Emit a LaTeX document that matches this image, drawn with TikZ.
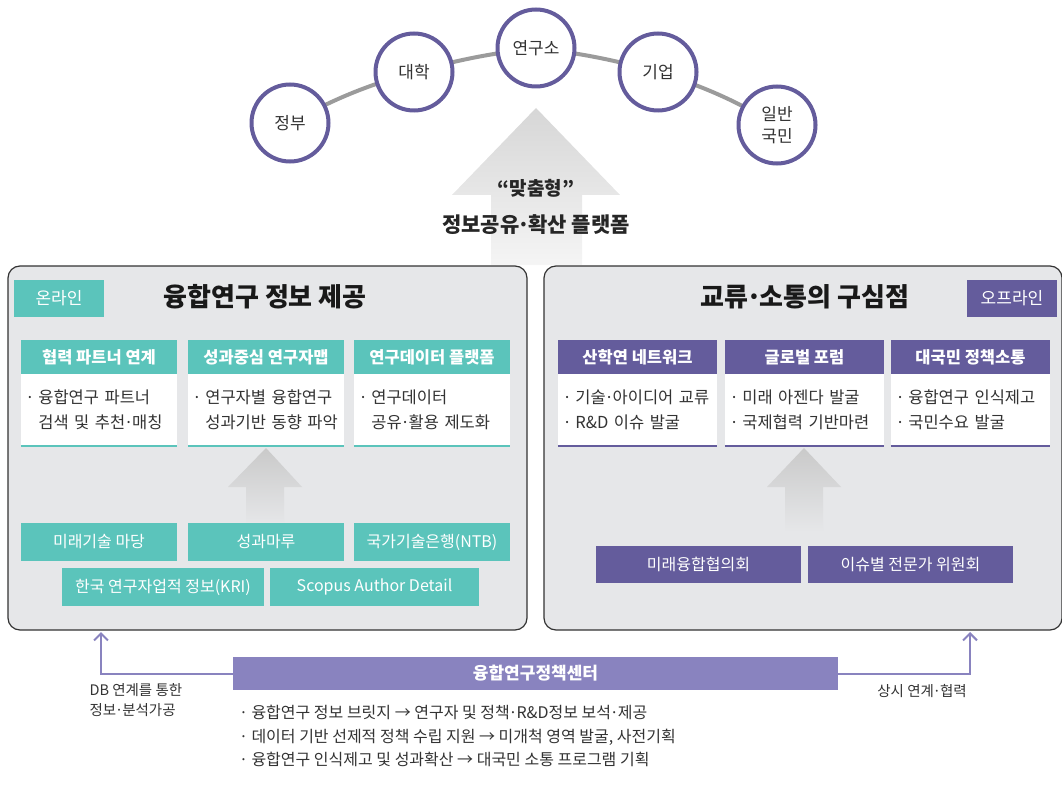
\documentclass[tikz,border=0pt]{standalone}
\usepackage{fontspec}
\setmainfont{Noto Sans CJK KR}
\usetikzlibrary{arrows.meta,backgrounds}
\definecolor{teal1}{HTML}{5BC4BB}
\definecolor{purp}{HTML}{645C9C}
\definecolor{purpl}{HTML}{8983BF}
\definecolor{boxbg}{HTML}{E6E7E9}
\definecolor{txt}{HTML}{333333}
\definecolor{arcc}{HTML}{9B9B9B}
\newcommand\md{\leavevmode\hbox to 0.42em{\hss·\hss}}
\newcommand\bl{\leavevmode\hbox to 0.5em{\hss·\hss}\hspace{0.25em}}
\begin{document}
\begin{tikzpicture}[x=1pt,y=-1pt,
  font=\fontsize{15}{18}\selectfont,
  circ/.style={circle, draw=purp, line width=4pt, fill=white, minimum size=77pt, inner sep=0pt, text=txt, align=center, font=\fontsize{17}{22}\selectfont},
  arcline/.style={draw=arcc, line width=4pt},
  panel/.style={draw=black!80, line width=1.2pt, rounded corners=12pt, fill=boxbg, inner sep=0pt},
  tag/.style={minimum width=90pt, minimum height=37pt, inner sep=0pt, text=white, font=\fontsize{17}{20}\selectfont},
  ttl/.style={text=black!90, font=\fontsize{26}{30}\bfseries},
  hdr/.style={minimum height=34pt, inner sep=0pt, text=white, font=\fontsize{16.5}{19}\bfseries},
  body/.style={fill=white, minimum height=72pt, inner xsep=5pt, inner ysep=0pt, align=left, text=txt, font=\fontsize{16.5}{25}\selectfont},
  src/.style={inner sep=0pt, text=white, font=\fontsize{16}{19}\selectfont},
  pline/.style={draw=purpl, line width=2pt},
  ptip/.style={-{Straight Barb[length=7pt,width=14pt,line width=2pt]}},
  small/.style={text=txt, font=\fontsize{14.5}{20}\selectfont, align=left},
]
\useasboundingbox (0,0) rectangle (1062,786);

% big up arrow
\path[top color=black!16, bottom color=black!4] (536,108) -- (620,195) -- (582,195) -- (582,265) -- (491,265) -- (491,195) -- (452,195) -- cycle;
\node[font=\fontsize{19}{22}\bfseries, text=black!85] (q) at (536,188) {“맞춤형”};
\node[font=\fontsize{21}{24}\bfseries, text=black!85] (plat) at (536,225) {정보공유\md 확산 플랫폼};

% circles
\node[circ] (jb) at (290,123) {정부};
\node[circ] (dh) at (414,72) {대학};
\node[circ] (yg) at (536,48) {연구소};
\node[circ] (gy) at (658,72) {기업};
\node[circ] (im) at (777,125) {일반\\국민};
\begin{scope}[on background layer]
  \draw[arcline] (jb.center) to[bend left=6] (dh.center);
  \draw[arcline] (dh.center) to[bend left=4] (yg.center);
  \draw[arcline] (yg.center) to[bend left=4] (gy.center);
  \draw[arcline] (gy.center) to[bend left=6] (im.center);
\end{scope}

% left panel
\node[panel, minimum width=519pt, minimum height=364pt] (lp) at (267.5,448) {};
\node[tag, fill=teal1] (on) at (59,298.5) {온라인};
\node[ttl] (lt) at (265,297) {융합연구 정보 제공};

\node[hdr, fill=teal1, minimum width=156pt] (lh1) at (99,357) {협력 파트너 연계};
\node[hdr, fill=teal1, minimum width=156pt] (lh2) at (266,357) {성과중심 연구자맵};
\node[hdr, fill=teal1, minimum width=156pt] (lh3) at (432,357) {연구데이터 플랫폼};
\node[body, text width=146pt] (lb1) at (99,410) {\bl 융합연구 파트너\\\phantom{\bl}검색 및 추천\md 매칭};
\node[body, text width=146pt] (lb2) at (266,410) {\bl 연구자별 융합연구\\\phantom{\bl}성과기반 동향 파악};
\node[body, text width=146pt] (lb3) at (432,410) {\bl 연구데이터\\\phantom{\bl}공유\md 활용 제도화};
\foreach \b in {lb1,lb2,lb3} \draw[teal1, line width=2pt] (\b.south west) -- (\b.south east);

\path[top color=black!21, bottom color=boxbg] (266,448) -- (302,487) -- (284,487) -- (284,525) -- (246,525) -- (246,487) -- (228,487) -- cycle;

\node[src, fill=teal1, minimum width=156pt, minimum height=38pt] (ls1) at (99,542) {미래기술 마당};
\node[src, fill=teal1, minimum width=156pt, minimum height=38pt] (ls2) at (266,542) {성과마루};
\node[src, fill=teal1, minimum width=156pt, minimum height=38pt] (ls3) at (432,542) {국가기술은행(NTB)};
\node[src, fill=teal1, minimum width=202pt, minimum height=38pt] (ls4) at (163,587) {한국 연구자업적 정보(KRI)};
\node[src, fill=teal1, minimum width=209pt, minimum height=38pt] (ls5) at (374.5,587) {Scopus Author Detail};

% right panel
\node[panel, minimum width=518pt, minimum height=364pt] (rp) at (803,448) {};
\node[tag, fill=purp] (off) at (1012,298.5) {오프라인};
\node[ttl] (rt) at (805,297) {교류\md 소통의 구심점};

\node[hdr, fill=purp, minimum width=159pt] (rh1) at (637.5,357) {산학연 네트워크};
\node[hdr, fill=purp, minimum width=159pt] (rh2) at (804.5,357) {글로벌 포럼};
\node[hdr, fill=purp, minimum width=159pt] (rh3) at (970.5,357) {대국민 정책소통};
\node[body, text width=149pt] (rb1) at (637.5,410) {\bl 기술\md 아이디어 교류\\\bl R\&D 이슈 발굴};
\node[body, text width=149pt] (rb2) at (804.5,410) {\bl 미래 아젠다 발굴\\\bl 국제협력 기반마련};
\node[body, text width=149pt] (rb3) at (970.5,410) {\bl 융합연구 인식제고\\\bl 국민수요 발굴};
\foreach \b in {rb1,rb2,rb3} \draw[purp, line width=2pt] (\b.south west) -- (\b.south east);

\path[top color=black!21, bottom color=boxbg] (804,448) -- (841,487) -- (823,487) -- (823,532) -- (785,532) -- (785,487) -- (767,487) -- cycle;

\node[src, fill=purp, minimum width=205pt, minimum height=37pt] (rs1) at (698.5,564.5) {미래융합협의회};
\node[src, fill=purp, minimum width=205pt, minimum height=37pt] (rs2) at (910.5,564.5) {이슈별 전문가 위원회};

% bottom centre
\node[fill=purpl, minimum width=605pt, minimum height=33pt, inner sep=0pt, text=white, font=\fontsize{17}{20}\bfseries] (ctr) at (535.5,673.5) {융합연구정책센터};
\coordinate (la) at (101,632);
\coordinate (ra) at (970,632);
\draw[pline, ptip] (ctr.west) -| (la);
\draw[pline, ptip] (ctr.east) -| (ra);
\node[small, anchor=north west] (dbl) at (86,680) {DB 연계를 통한\\정보\md 분석가공};
\node[small] (sl) at (922,691) {상시 연계\md 협력};
\node[anchor=north west, text=txt, align=left, font=\fontsize{16}{23.5}\selectfont] (bul) at (236,702) {\bl 융합연구 정보 브릿지 → 연구자 및 정책\md R\&D정보 보석\md 제공\\\bl 데이터 기반 선제적 정책 수립 지원 → 미개척 영역 발굴, 사전기획\\\bl 융합연구 인식제고 및 성과확산 → 대국민 소통 프로그램 기획};
\end{tikzpicture}
\end{document}
